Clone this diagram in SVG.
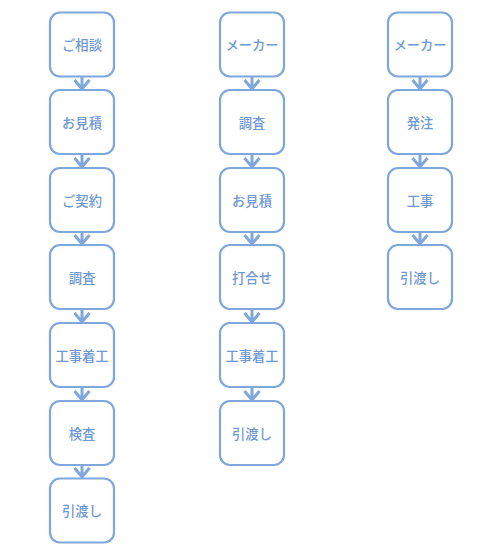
<svg xmlns="http://www.w3.org/2000/svg" width="500" height="555" viewBox="0 0 500 555">
<style>
.box{fill:#fff;stroke:#7fa7dc;stroke-width:2.2}
.lbl{font-family:"Noto Sans CJK JP","Noto Sans",sans-serif;font-size:13.3px;font-weight:500;fill:#6f99d3;text-anchor:middle;dominant-baseline:central}
.con{fill:none;stroke:#7fa7dc;stroke-width:3;stroke-linejoin:miter}
</style>
<rect width="500" height="555" fill="#fff"/>
<g id="connectors">
<path class="con" d="M82 76V88M74.5 80L82 89L89.5 80"/>
<path class="con" d="M82 154V166M74.5 158L82 167L89.5 158"/>
<path class="con" d="M82 232V243M74.5 235L82 244L89.5 235"/>
<path class="con" d="M82 309V321M74.5 313L82 322L89.5 313"/>
<path class="con" d="M82 387V399M74.5 391L82 400L89.5 391"/>
<path class="con" d="M82 465V477M74.5 468L82 477L89.5 468"/>
<path class="con" d="M252 76V88M244.5 80L252 89L259.5 80"/>
<path class="con" d="M252 154V166M244.5 158L252 167L259.5 158"/>
<path class="con" d="M252 232V243M244.5 235L252 244L259.5 235"/>
<path class="con" d="M252 309V321M244.5 313L252 322L259.5 313"/>
<path class="con" d="M252 387V399M244.5 391L252 400L259.5 391"/>
<path class="con" d="M420 76V88M412.5 80L420 89L427.5 80"/>
<path class="con" d="M420 154V166M412.5 158L420 167L427.5 158"/>
<path class="con" d="M420 232V243M412.5 235L420 244L427.5 235"/>
</g>
<g id="a1"><rect class="box" x="50" y="12.5" width="64" height="64" rx="10"/><text class="lbl" x="82" y="44.5">ご相談</text></g>
<g id="a2"><rect class="box" x="50" y="90" width="64" height="64" rx="10"/><text class="lbl" x="82" y="122">お見積</text></g>
<g id="a3"><rect class="box" x="50" y="168" width="64" height="64" rx="10"/><text class="lbl" x="82" y="200">ご契約</text></g>
<g id="a4"><rect class="box" x="50" y="245" width="64" height="64" rx="10"/><text class="lbl" x="82" y="277">調査</text></g>
<g id="a5"><rect class="box" x="50" y="323" width="64" height="64" rx="10"/><text class="lbl" x="82" y="355">工事着工</text></g>
<g id="a6"><rect class="box" x="50" y="401" width="64" height="64" rx="10"/><text class="lbl" x="82" y="433">検査</text></g>
<g id="a7"><rect class="box" x="50" y="478.5" width="64" height="64" rx="10"/><text class="lbl" x="82" y="510.5">引渡し</text></g>
<g id="b1"><rect class="box" x="220" y="12.5" width="64" height="64" rx="10"/><text class="lbl" x="252" y="44.5">メーカー</text></g>
<g id="b2"><rect class="box" x="220" y="90" width="64" height="64" rx="10"/><text class="lbl" x="252" y="122">調査</text></g>
<g id="b3"><rect class="box" x="220" y="168" width="64" height="64" rx="10"/><text class="lbl" x="252" y="200">お見積</text></g>
<g id="b4"><rect class="box" x="220" y="245" width="64" height="64" rx="10"/><text class="lbl" x="252" y="277">打合せ</text></g>
<g id="b5"><rect class="box" x="220" y="323" width="64" height="64" rx="10"/><text class="lbl" x="252" y="355">工事着工</text></g>
<g id="b6"><rect class="box" x="220" y="401" width="64" height="64" rx="10"/><text class="lbl" x="252" y="433">引渡し</text></g>
<g id="c1"><rect class="box" x="388" y="12.5" width="64" height="64" rx="10"/><text class="lbl" x="420" y="44.5">メーカー</text></g>
<g id="c2"><rect class="box" x="388" y="90" width="64" height="64" rx="10"/><text class="lbl" x="420" y="122">発注</text></g>
<g id="c3"><rect class="box" x="388" y="168" width="64" height="64" rx="10"/><text class="lbl" x="420" y="200">工事</text></g>
<g id="c4"><rect class="box" x="388" y="245" width="64" height="64" rx="10"/><text class="lbl" x="420" y="277">引渡し</text></g>
</svg>
